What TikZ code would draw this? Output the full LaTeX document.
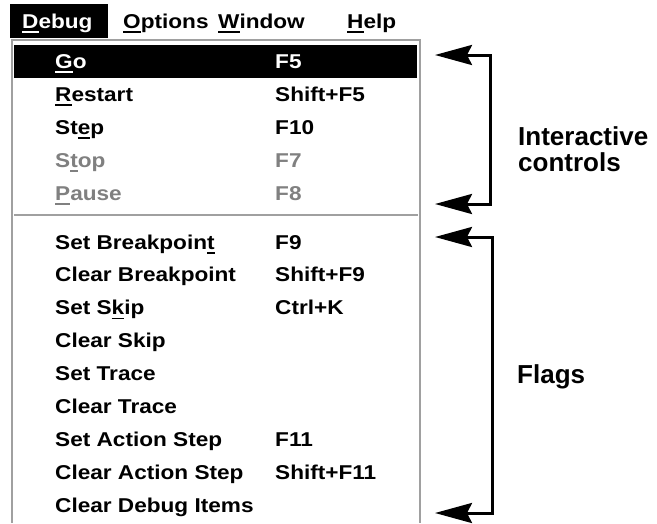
\documentclass[tikz,border=0pt]{standalone}
\usepackage{fontspec}
\usetikzlibrary{arrows.meta}
\newfontfamily\menufont[FakeStretch=1.13]{Liberation Sans}
\newfontfamily\lblfont{Liberation Sans}
\newcommand\ulk[1]{\setbox0\hbox{#1}\rlap{\rule[-4.5pt]{\wd0}{1.8pt}}\box0}
\definecolor{panelgray}{RGB}{160,160,160}
\definecolor{dimgray}{RGB}{128,128,128}
\begin{document}
\begin{tikzpicture}[x=1pt,y=-1pt,
  item/.style={anchor=base west, inner sep=0pt, font=\menufont\bfseries\fontsize{20}{22}\selectfont},
  dimitem/.style={item, text=dimgray},
  lbl/.style={anchor=base west, inner sep=0pt, align=left, font=\lblfont\bfseries\fontsize{26}{26}\selectfont},
  brk/.style={line width=3pt, {Stealth[length=37pt,width=20pt,inset=5pt]}-{Stealth[length=37pt,width=20pt,inset=5pt]}},
  panel/.style={draw=panelgray, line width=1.5pt},
  sep/.style={draw=panelgray, line width=2pt}
]
\useasboundingbox (0,0) rectangle (657,523);
% menu bar
\fill[black] (10,4) rectangle (108,38);
\node[item, text=white] (mdebug) at (22,28) {\ulk{D}ebug};
\node[item] (mopt) at (123,28) {\ulk{O}ptions};
\node[item] (mwin) at (218,28) {\ulk{W}indow};
\node[item] (mhelp) at (347,28) {\ulk{H}elp};
% panel
\draw[panel] (12,523) -- (12,40) -- (420,40) -- (420,523);
\fill[black] (14,45) rectangle (417,78);
\draw[sep] (14,215) -- (418,215);
% first group
\node[item, text=white] (go) at (55,68) {\ulk{G}o};
\node[item, text=white] (gok) at (275,68) {F5};
\node[item] (restart) at (55,101) {\ulk{R}estart};
\node[item] (restartk) at (275,101) {Shift+F5};
\node[item] (step) at (55,134) {St\ulk{e}p};
\node[item] (stepk) at (275,134) {F10};
\node[dimitem] (stop) at (55,167) {S\ulk{t}op};
\node[dimitem] (stopk) at (275,167) {F7};
\node[dimitem] (pause) at (55,200) {\ulk{P}ause};
\node[dimitem] (pausek) at (275,200) {F8};
% second group
\node[item] (setbp) at (55,249) {Set Breakpoin\ulk{t}};
\node[item] (setbpk) at (275,249) {F9};
\node[item] (clrbp) at (55,281.9) {Clear Breakpoint};
\node[item] (clrbpk) at (275,281.9) {Shift+F9};
\node[item] (setskip) at (55,314.8) {Set S\ulk{k}ip};
\node[item] (setskipk) at (275,314.8) {Ctrl+K};
\node[item] (clrskip) at (55,347.7) {Clear Skip};
\node[item] (settrace) at (55,380.6) {Set Trace};
\node[item] (clrtrace) at (55,413.5) {Clear Trace};
\node[item] (setas) at (55,446.4) {Set Action Step};
\node[item] (setask) at (275,446.4) {F11};
\node[item] (clras) at (55,479.3) {Clear Action Step};
\node[item] (clrask) at (275,479.3) {Shift+F11};
\node[item] (clrdbg) at (55,512.2) {Clear Debug Items};
% brackets
\coordinate (i1) at (435,55);
\coordinate (i2) at (435,204);
\coordinate (ic1) at (490,55);
\coordinate (ic2) at (490,204);
\draw[brk] (i1) -- (ic1) -- (ic2) -- (i2);
\coordinate (f1) at (435,237);
\coordinate (f2) at (435,513);
\coordinate (fc1) at (492,237);
\coordinate (fc2) at (492,513);
\draw[brk] (f1) -- (fc1) -- (fc2) -- (f2);
\node[lbl] (ilbl) at (518,171) {Interactive\\controls};
\node[lbl] (flbl) at (517,383) {Flags};
\end{tikzpicture}
\end{document}
